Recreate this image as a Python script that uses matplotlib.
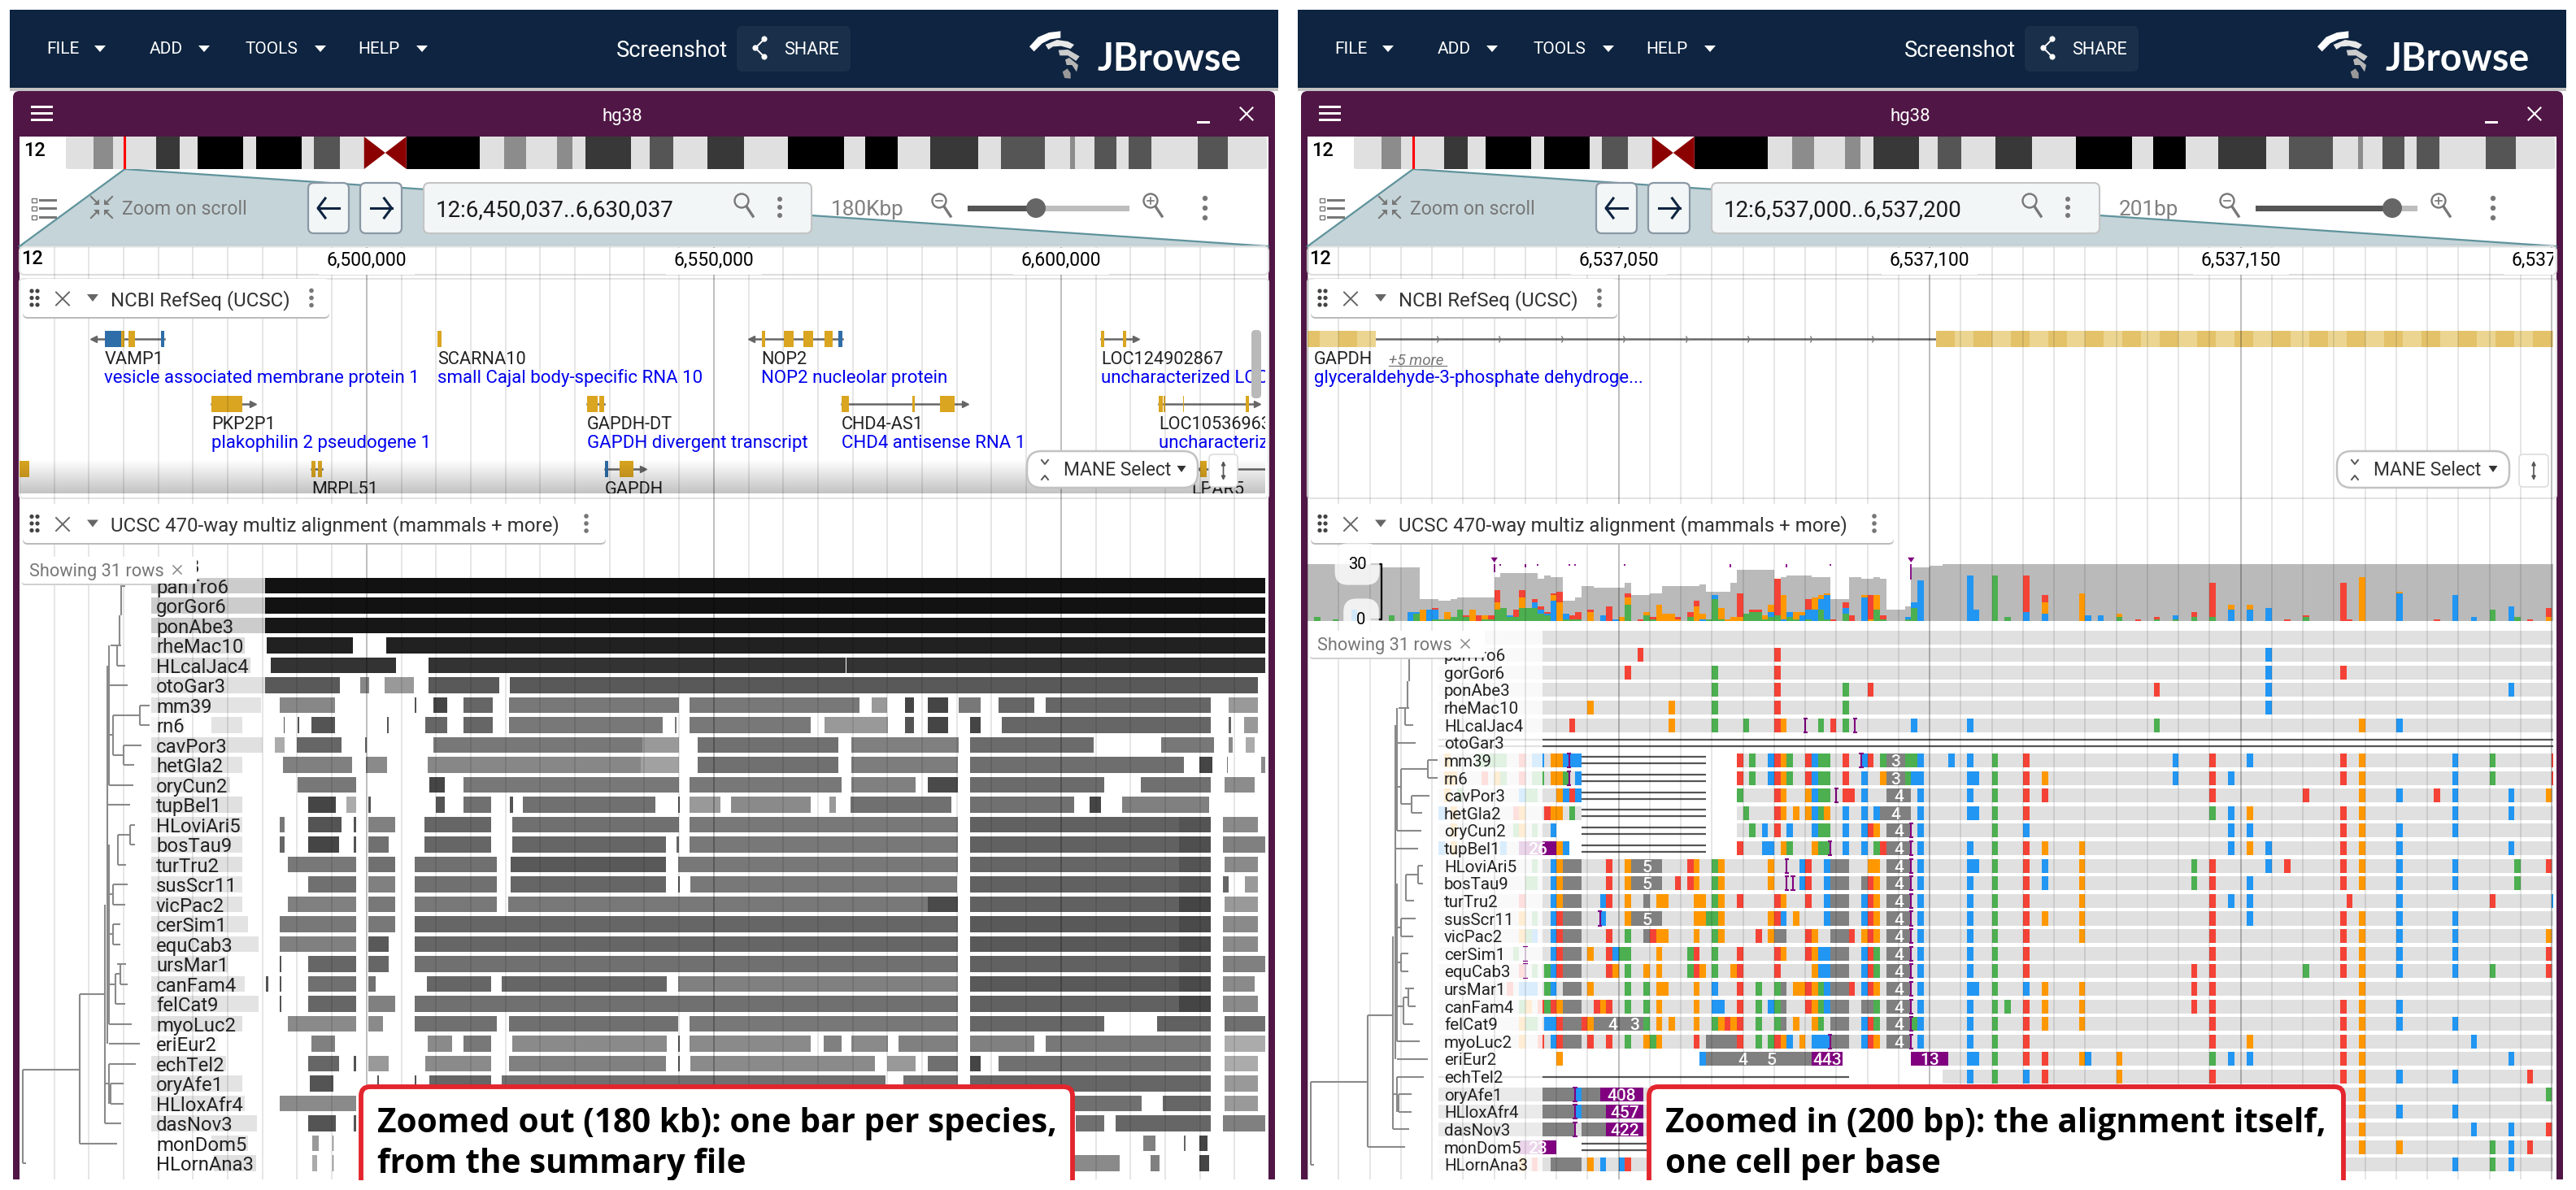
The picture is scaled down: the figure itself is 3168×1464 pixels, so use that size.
"""JBrowse multiple alignment screenshot: 180 kb summary view next to 200 bp base view."""
import re

import matplotlib

matplotlib.use("Agg")
import matplotlib.pyplot as plt
import numpy as np
from matplotlib.patches import Circle, FancyBboxPatch, Polygon, Rectangle

plt.rcParams["font.family"] = ["Roboto", "DejaVu Sans"]

W, H = 3168, 1464
NAVY, SHARE_BG, PLUM = "#0e2440", "#192f4a", "#501645"
BASE_COLORS = {"A": "#4caf50", "C": "#2196f3", "G": "#ff9800", "T": "#f44336"}
INS_PURPLE, DEL_GREY, ROW_GREY = "#800080", "#808080", "#e0e0e0"
GOLD, CDS_BLUE = "#daa520", "#2f6da8"

SPECIES = ["hg38", "panTro6", "gorGor6", "ponAbe3", "rheMac10", "HLcalJac4", "otoGar3", "mm39", "rn6",
           "cavPor3", "hetGla2", "oryCun2", "tupBel1", "HLoviAri5", "bosTau9", "turTru2", "susScr11",
           "vicPac2", "cerSim1", "equCab3", "ursMar1", "canFam4", "felCat9", "myoLuc2", "eriEur2",
           "echTel2", "oryAfe1", "HLloxAfr4", "dasNov3", "monDom5", "HLornAna3"]

# chr12 ideogram: band edges in Mb, stain of each band
BAND_EDGES = [0, 3.1, 5.2, 10.0, 12.6, 14.6, 19.7, 21.1, 26.2, 27.5, 30.4, 33.1, 37.8, 45.9, 48.6, 51.1, 54.5,
              56.2, 57.7, 62.7, 64.8, 67.4, 71.2, 75.3, 80.1, 86.4, 88.7, 92.3, 95.9, 101.3, 103.8, 108.7,
              111.5, 112.0, 114.2, 116.6, 118.0, 120.5, 125.6, 129.0, 133.3]
BAND_STAIN = [0, 50, 0, 80, 0, 100, 0, 100, 0, 70, 0, -1, 100, 0, 50, 0, 50, 0, 80, 0, 70, 0, 80, 0, 100, 0, 100,
              0, 80, 0, 70, 0, 50, 0, 70, 0, 70, 0, 70, 0]
BAND_COLORS = {0: "#e0e0e0", 50: "#8c8c8c", 70: "#555555", 80: "#383838", 100: "#000000"}

# left panel, summary blocks per species: start kb, end kb, percent identity
VIEW_KB = 179.36
LEFT_BLOCKS = {
    "panTro6": [(18.9, 35.3, 20), (35.3, 180, 93)],
    "gorGor6": [(18.9, 35.3, 20), (35.3, 180, 93)],
    "ponAbe3": [(18.9, 35.3, 20), (35.3, 180, 91)],
    "rheMac10": [(18.9, 32.4, 14), (35.6, 48.0, 87), (52.8, 180, 87)],
    "HLcalJac4": [(18.9, 33.2, 14), (36.2, 54.2, 80), (58.9, 118.9, 80), (119.1, 180, 80)],
    "otoGar3": [(18.9, 35.3, 12), (35.3, 46.1, 65), (49.0, 50.3, 47), (52.6, 56.8, 40), (58.9, 69.1, 65), (70.6, 178.3, 65)],
    "mm39": [(18.9, 34.8, 11), (37.4, 45.4, 47), (56.9, 57.1, 67), (59.6, 61.6, 73), (63.9, 68.1, 60), (70.5, 94.9, 53),
             (96.5, 120.9, 53), (122.7, 124.9, 40), (127.5, 128.8, 73), (130.8, 133.7, 73), (135.2, 138.4, 53),
             (141.0, 146.1, 60), (147.8, 171.5, 60), (174.1, 178.3, 40)],
    "rn6": [(18.9, 23.8, 4), (27.6, 32.1, 11), (38.0, 38.2, 67), (40.0, 40.2, 67), (42.0, 45.4, 67), (52.9, 53.1, 67),
            (58.4, 61.6, 60), (63.9, 68.1, 60), (70.5, 92.6, 53), (94.4, 94.6, 53), (96.5, 113.9, 53), (115.9, 125.0, 40),
            (127.5, 128.8, 67), (130.8, 133.7, 73), (136.9, 138.4, 73), (141.4, 171.5, 60), (174.1, 174.5, 60),
            (176.3, 178.3, 40)],
    "cavPor3": [(18.9, 35.0, 12), (36.8, 38.1, 33), (39.9, 46.3, 60), (49.7, 50.0, 60), (59.6, 89.7, 53), (89.7, 94.9, 40),
                (97.6, 117.9, 56), (119.8, 135.2, 50), (136.9, 154.6, 58), (164.4, 172.0, 53), (174.1, 174.7, 46),
                (176.5, 177.8, 33)],
    "hetGla2": [(18.9, 32.1, 11), (37.9, 47.9, 50), (49.8, 52.9, 46), (58.7, 89.4, 47), (89.4, 94.9, 37), (97.6, 117.9, 56),
                (119.8, 135.1, 51), (136.9, 167.7, 57), (169.9, 171.8, 73), (173.8, 174.0, 53), (178.8, 180, 46)],
    "oryCun2": [(18.9, 30.3, 11), (40.0, 48.4, 53), (59.0, 61.2, 73), (63.9, 94.9, 53), (96.5, 118.3, 53), (119.8, 129.0, 50),
                (130.8, 135.1, 71), (136.9, 156.2, 58), (161.4, 171.5, 56), (173.5, 177.8, 45)],
    "tupBel1": [(18.9, 32.1, 12), (41.5, 45.5, 73), (47.1, 48.5, 33), (50.2, 50.6, 67), (59.9, 61.2, 67), (63.9, 67.9, 56),
                (70.6, 71.0, 67), (72.5, 91.6, 56), (94.8, 95.0, 67), (96.5, 100.9, 40), (102.4, 113.9, 46), (116.6, 117.5, 40),
                (119.6, 134.2, 56), (136.9, 151.8, 56), (154.1, 155.7, 73), (158.8, 171.3, 50)],
    "HLoviAri5": [(18.9, 32.1, 11), (37.4, 38.2, 53), (41.5, 46.4, 67), (48.1, 48.4, 67), (50.2, 54.1, 50), (58.3, 67.9, 60),
                  (70.9, 94.9, 56), (96.5, 135.1, 53), (136.9, 166.9, 62), (166.9, 171.5, 67), (173.3, 178.3, 46)],
    "bosTau9": [(18.9, 32.1, 11), (37.4, 38.2, 60), (41.5, 46.0, 73), (48.1, 48.4, 67), (50.2, 53.1, 56), (58.3, 67.9, 60),
                (70.9, 93.1, 60), (94.6, 94.9, 60), (96.5, 135.1, 53), (136.9, 166.9, 62), (166.9, 171.5, 69), (173.3, 180, 50)],
    "turTru2": [(18.9, 32.1, 12), (38.6, 48.4, 53), (50.2, 54.1, 56), (56.9, 68.7, 56), (70.7, 93.1, 65), (94.8, 135.1, 53),
                (136.9, 166.9, 60), (166.9, 171.5, 67), (173.5, 178.3, 46)],
    "susScr11": [(18.9, 32.1, 10), (41.5, 48.4, 56), (50.2, 54.1, 50), (56.9, 68.7, 56), (70.7, 93.1, 60), (94.8, 95.0, 67),
                 (96.6, 135.0, 53), (136.9, 166.9, 62), (166.9, 171.5, 67), (173.3, 174.1, 60), (176.4, 178.3, 40)],
    "vicPac2": [(18.9, 32.1, 11), (38.6, 48.4, 50), (50.2, 54.1, 53), (56.9, 68.7, 53), (70.4, 130.8, 53), (130.8, 135.1, 71),
                (136.9, 166.9, 62), (166.9, 171.5, 73), (173.5, 178.3, 40)],
    "cerSim1": [(18.9, 32.9, 11), (37.4, 48.4, 53), (50.2, 54.1, 53), (56.9, 135.1, 60), (136.9, 166.9, 65), (166.9, 171.5, 71),
                (173.3, 178.3, 46)],
    "equCab3": [(18.9, 34.4, 11), (37.4, 48.4, 50), (50.2, 53.1, 65), (56.9, 135.1, 60), (136.9, 166.9, 65), (166.9, 171.5, 71),
                (173.3, 178.3, 46)],
    "ursMar1": [(18.9, 29.9, 11), (37.4, 37.7, 67), (41.5, 48.4, 60), (50.2, 53.1, 60), (56.9, 135.1, 56), (136.9, 166.9, 62),
                (166.9, 171.5, 67), (173.3, 180, 50)],
    "canFam4": [(18.9, 32.4, 11), (35.5, 35.8, 67), (37.4, 37.7, 67), (41.5, 48.4, 56), (50.2, 51.3, 56), (58.6, 67.9, 60),
                (69.4, 93.2, 60), (94.8, 135.1, 50), (136.9, 166.9, 65), (166.9, 171.5, 71), (173.3, 177.8, 46)],
    "felCat9": [(18.9, 34.4, 11), (37.4, 37.7, 67), (41.5, 48.4, 60), (50.2, 54.1, 50), (56.9, 135.1, 56), (136.9, 166.9, 62),
                (166.9, 171.5, 73), (173.3, 178.3, 46)],
    "myoLuc2": [(18.9, 32.1, 12), (38.6, 48.4, 46), (50.2, 52.3, 46), (56.9, 68.7, 56), (70.5, 94.8, 56), (96.5, 135.1, 53),
                (136.9, 156.2, 60), (163.8, 171.5, 62), (173.5, 180, 56)],
    "eriEur2": [(18.9, 28.5, 3), (42.0, 45.4, 50), (58.8, 62.3, 46), (63.9, 67.9, 53), (70.9, 93.2, 46), (94.8, 95.0, 67),
                (96.5, 113.9, 46), (115.8, 118.3, 50), (119.8, 125.0, 46), (126.6, 135.1, 50), (136.9, 146.1, 50),
                (147.8, 171.5, 53), (173.5, 180, 33)],
    "echTel2": [(18.9, 29.7, 11), (41.5, 46.0, 60), (48.1, 48.4, 67), (50.2, 53.1, 40), (58.4, 67.9, 46), (70.5, 93.1, 50),
                (94.8, 95.0, 67), (96.6, 123.1, 46), (124.9, 129.0, 40), (130.8, 135.1, 56), (136.9, 138.4, 73),
                (141.0, 171.5, 56), (173.5, 178.3, 33)],
    "oryAfe1": [(18.9, 32.1, 11), (41.8, 45.2, 67), (51.5, 51.7, 67), (56.9, 57.1, 67), (59.0, 67.9, 60), (69.4, 124.7, 56),
                (127.3, 135.1, 56), (136.9, 171.5, 60), (173.5, 178.3, 40)],
    "HLloxAfr4": [(18.9, 32.4, 11), (37.4, 48.4, 46), (151.9, 161.6, 56), (164.6, 171.5, 60), (173.5, 178.3, 40)],
    "dasNov3": [(18.9, 34.2, 11), (41.5, 45.5, 67), (48.1, 48.4, 67), (152.1, 156.2, 56), (157.8, 171.5, 60), (173.3, 180, 50)],
    "monDom5": [(27.6, 32.9, 11), (42.1, 43.1, 40), (45.0, 45.2, 60), (161.8, 163.6, 50), (167.7, 167.9, 60), (169.9, 171.1, 73)],
    "HLornAna3": [(28.0, 34.0, 12), (42.1, 42.8, 33), (45.0, 45.2, 60), (151.9, 158.4, 46), (162.8, 164.1, 50), (169.9, 171.3, 73)],
}

# left panel genes: name, description, lane, start, end, strand, (exon start, end, kind), label x
LEFT_GENES = [
    ("VAMP1", "vesicle associated membrane protein 1", 0, 10.6, 20.8, -1,
     [(12.3, 14.6, "c"), (14.6, 15.1, "e"), (15.7, 16.6, "e"), (20.3, 20.8, "c")], 12.2),
    ("SCARNA10", "small Cajal body-specific RNA 10", 0, 60.2, 60.7, 0, [(60.2, 60.7, "e")], 60.2),
    ("NOP2", "NOP2 nucleolar protein", 0, 105.4, 118.5, -1,
     [(106.9, 107.4, "e"), (110.0, 111.4, "e"), (112.9, 114.3, "e"), (115.9, 117.1, "e"), (117.9, 118.5, "c")], 106.8),
    ("LOC124902867", "uncharacterized LOC124902867", 0, 155.7, 160.7, 1, [(155.7, 156.2, "e"), (158.9, 159.3, "e")], 155.7),
    ("PKP2P1", "plakophilin 2 pseudogene 1", 1, 27.6, 33.6, 1, [(27.6, 32.1, "e")], 27.6),
    ("GAPDH-DT", "GAPDH divergent transcript", 1, 81.7, 84.2, 0, [(81.7, 83.2, "e"), (83.5, 84.2, "e")], 81.7),
    ("CHD4-AS1", "CHD4 antisense RNA 1", 1, 118.3, 136.2, 1,
     [(118.3, 119.4, "e"), (128.5, 128.9, "e"), (132.5, 134.6, "e")], 118.3),
    ("LOC105369632", "uncharacterized LOC105369632", 1, 164.0, 178.2, 1,
     [(164.0, 164.6, "e"), (164.7, 165.0, "e"), (167.5, 167.7, "e"), (176.6, 177.0, "e")], 164.0),
    ("", "", 2, 0.0, 1.4, 0, [(0.0, 1.4, "e")], 0.0),
    ("MRPL51", "", 2, 42.0, 43.5, 0, [(42.0, 42.6, "e"), (42.9, 43.5, "e")], 42.0),
    ("GAPDH", "", 2, 84.3, 89.8, 1, [(84.3, 84.8, "c"), (86.4, 88.4, "e")], 84.3),
    ("LPAR5", "", 2, 170.0, 180.0, -1, [(170.0, 170.9, "e")], 168.7),
]

# right panel: coverage top per run of bases (run start, count), from bp 0 up to the end of the view
COVERAGE_STARTS = [0, 12, 18, 21, 23, 24, 30, 31, 37, 38, 39, 41, 43, 44, 46, 51, 52, 55, 57, 63, 64, 68, 69, 75, 76,
                   77, 81, 84, 87, 89, 90, 91, 92, 93, 96, 97, 100, 102]
COVERAGE_COUNTS = [31, 29, 12, 11, 12, 13, 24, 26, 23, 25, 24, 11, 13, 19, 18, 21, 14, 15, 19, 20, 16, 21, 28, 23, 24,
                   25, 24, 12, 24, 23, 23, 24, 23, 6, 8, 29, 30, 31]
# mismatch counts stacked on the coverage: bp -> A, C, G, T
SNP_COUNTS = {
    1: (2, 0, 0, 0), 4: (1, 0, 0, 0), 7: (0, 6, 0, 0), 13: (3, 0, 0, 0), 16: (0, 5, 0, 0), 17: (4, 1, 0, 0), 18: (0, 0, 6, 0),
    19: (0, 6, 0, 0), 20: (1, 5, 0, 1), 21: (1, 0, 0, 0), 22: (1, 0, 4, 0), 23: (2, 0, 0, 0), 24: (6, 0, 0, 0), 25: (2, 0, 0, 1),
    26: (0, 0, 6, 0), 27: (0, 0, 0, 3), 28: (1, 0, 2, 0), 29: (1, 0, 0, 2), 30: (6, 0, 4, 7), 31: (7, 0, 0, 0), 32: (2, 1, 0, 0),
    33: (2, 0, 0, 4), 34: (7, 0, 6, 4), 35: (7, 0, 0, 0), 36: (7, 3, 0, 2), 37: (4, 2, 0, 2), 38: (3, 1, 0, 1), 39: (0, 11, 3, 1),
    40: (0, 0, 10, 6), 41: (1, 3, 0, 0), 42: (1, 0, 0, 2), 43: (1, 0, 0, 4), 45: (0, 0, 5, 1), 47: (0, 3, 0, 0), 48: (0, 0, 0, 8),
    49: (0, 1, 0, 0), 50: (0, 0, 2, 0), 51: (9, 0, 4, 2), 53: (0, 0, 0, 1), 54: (3, 0, 2, 0), 55: (1, 0, 0, 1), 56: (0, 0, 9, 0),
    57: (0, 0, 4, 0), 58: (0, 0, 4, 0), 59: (0, 0, 1, 1), 61: (2, 0, 0, 3), 62: (0, 0, 8, 3), 63: (0, 1, 3, 0), 64: (1, 0, 0, 0),
    65: (12, 2, 0, 0), 66: (1, 0, 6, 0), 67: (0, 0, 1, 0), 68: (0, 0, 2, 0), 69: (0, 0, 2, 13), 70: (4, 0, 0, 0), 71: (5, 0, 0, 1),
    72: (5, 0, 0, 1), 73: (1, 0, 2, 0), 74: (2, 3, 4, 0), 75: (3, 0, 0, 20), 76: (0, 1, 13, 0), 77: (2, 3, 0, 0), 78: (1, 0, 4, 0),
    79: (0, 3, 2, 0), 80: (1, 5, 0, 6), 81: (0, 6, 7, 0), 82: (6, 6, 2, 0), 83: (1, 13, 1, 0), 84: (0, 0, 0, 1), 86: (4, 3, 0, 3),
    87: (0, 0, 0, 3), 89: (0, 13, 1, 0), 90: (0, 0, 1, 13), 91: (6, 0, 8, 0), 92: (1, 0, 0, 2), 96: (1, 1, 0, 0), 97: (7, 3, 0, 0),
    98: (0, 22, 0, 0), 106: (0, 25, 0, 0), 107: (0, 6, 0, 0), 110: (25, 0, 0, 0), 112: (2, 0, 0, 0), 115: (0, 5, 0, 20),
    118: (0, 4, 6, 4), 124: (0, 0, 15, 0), 125: (0, 3, 0, 0), 127: (0, 3, 0, 0), 130: (2, 0, 2, 0), 133: (0, 0, 0, 1),
    136: (1, 0, 0, 1), 139: (1, 2, 0, 0), 142: (2, 0, 0, 3), 145: (2, 0, 0, 19), 148: (0, 6, 3, 0), 151: (0, 6, 3, 0),
    154: (0, 7, 0, 0), 157: (0, 0, 0, 1), 160: (2, 0, 0, 1), 166: (0, 0, 0, 21), 167: (0, 0, 0, 1), 169: (0, 0, 24, 0),
    175: (0, 15, 1, 0), 181: (0, 0, 0, 1), 184: (0, 14, 0, 0), 187: (0, 2, 0, 0), 190: (6, 0, 0, 0), 193: (0, 8, 0, 0),
    194: (2, 0, 0, 0), 196: (0, 0, 0, 1), 199: (0, 0, 2, 5),
}
INS_SITES = [30, 31, 35, 37, 42, 43, 51, 68, 77, 84, 97]
INS_SIZES = [4.4, 0.6, 1.4, 0.6, 0.6, 0.6, 0.6, 1.4, 1.4, 0.6, 8.4]
INS_FLAGS = [30, 97]

# right panel: mismatching bases per species, written as bp + base
CELLS = {
    "panTro6": "53T 75T 154C",
    "gorGor6": "51T 65A 75T 154C 166T",
    "ponAbe3": "65A 75T 86A 90T 136T 154C 193C",
    "rheMac10": "45G 58G 65A 75T 86A 154C",
    "HLcalJac4": "42T 58G 65A 70A 75T 76G 82A 84T 86A 97C 106C 136A 169G 175C",
    "mm39": "22G 27A 28A 29A 30A 31A 34T 36C 37C 39G 40G 41C 42C 43C 69T 71A 74C 75T 76G 77A 80T 81C 82A 83A 86T 89C 90T "
            "92A 96A 97A 98C 103C 106C 110A 115T 139C 145T 151C 166T 169G 184C 190A 200T",
    "rn6": "22G 23G 28T 30G 31A 34T 36A 37A 39G 40G 41A 43C 69T 71A 74C 75T 76G 77A 80T 81C 82A 83A 86T 89C 92G 96A 97C 98C "
           "106C 107C 110A 115T 118G 139C 145T 148C 166T 169G 184C 190A 200T",
    "cavPor3": "22G 24A 34C 35A 36A 40G 41C 42T 43C 69A 75T 76G 80G 81C 82A 83A 86T 87T 89C 98C 106C 110A 115T 118T 145T 160T "
               "169G 175C 181T 184C 193C 199G",
    "hetGla2": "21C 23G 33T 34G 38T 39G 40G 42A 70A 75T 76G 78G 80G 81C 82A 83G 86C 89C 91C 98C 106C 107C 110A 115T 145A 148C "
               "151G 166T 169G 184C 193C",
    "oryCun2": "23G 33A 34G 36A 39C 71A 73C 75T 77C 81C 82A 83A 86C 89C 90T 91G 98C 110A 115C 148C 151C 166T 169G 175C 184C",
    "tupBel1": "21C 23G 31C 40G 41C 69T 73C 74C 76G 77A 81G 82A 83A 86C 89C 91A 92T 98C 106C 110A 115T 118G 124G 148C 151G 154C "
               "166T 169G 175C 193C",
    "HLoviAri5": "36A 39C 40G 48T 51G 61T 62G 65A 66G 74G 79C 80T 83C 90G 91G 98C 106C 107C 110A 115T 118C 124G 142A 145T 154C "
                 "157T 166T 169G 175C 184C 194A 199T",
    "bosTau9": "35A 36A 39C 40G 48T 51G 59T 61T 62G 65A 66G 74G 79C 80T 83C 90T 91G 98C 106C 110A 115T 118C 124G 142A 145T 151C "
               "166T 169G 175C 184C 194A",
    "turTru2": "34T 39C 40G 47C 48T 51G 56G 57G 62G 63G 65A 66G 69T 75T 76G 80T 83C 89C 90T 91G 98C 106C 110A 115T 124G 145T 148C "
               "151C 167T 175C 190T 200C",
    "susScr11": "34G 36A 39C 40T 47C 51G 62G 63G 64A 65A 66G 74G 75T 76C 78G 83C 89C 90T 91G 98C 106C 110A 115T 118G 124G 145T "
                "151C 166T 169G 175C 184C",
    "vicPac2": "34G 35A 36C 39C 40T 48T 51A 55T 56G 57G 62G 65A 66G 72T 74G 80T 81G 87T 89G 90T 91G 98C 106C 110A 115T 124G 145T "
               "166T 169G 175C 184C 199G",
    "cerSim1": "33A 39C 40T 45G 48T 49C 50A 51A 56G 61A 62T 65A 69T 75T 76G 80T 81G 82C 83C 89C 90T 91A 98C 106C 110A 115T 145T "
               "166T 169G 175C 184C 199T",
    "equCab3": "34T 36A 38A 39C 40T 48T 49G 51A 54G 56G 61A 62T 63G 65A 68G 69T 75T 81G 82C 83C 89C 90T 91A 98C 106C 110A 115T "
               "142T 145T 160A 166T 169G 175C 184C 190A 199T",
    "ursMar1": "32T 34C 35C 36C 38A 39C 45G 51A 54A 56G 57G 62G 65C 69T 72A 75A 78G 79G 80T 81G 82A 83C 87T 89C 90T 91G 98C 106C "
               "107C 110A 115C 118G 124G 142T 145T 169G",
    "canFam4": "34A 35G 37T 38A 39T 40G 46T 47G 48T 51A 54A 56G 62G 65C 66C 69T 72A 74C 75A 80T 81G 82A 83C 91A 98C 106C 110A 112A "
               "115T 118G 124G 142T 145T 166T 169G 175C",
    "felCat9": "34G 35A 36A 38C 39C 40T 44T 45G 54A 56G 58G 62G 65A 66G 67T 68G 69T 72A 75A 78G 81G 82A 89C 90T 91A 97A 98C 106C "
               "110A 115T 118G 124G 145T 166T 169G 175C 184C",
    "myoLuc2": "34G 37T 39C 40T 45T 48T 51A 54G 55A 56G 62T 69T 72A 74A 75T 76G 77C 79G 81C 82C 83C 89C 90T 91G 98C 106C 110A 115T "
               "145T 151G 166T 169G 187C",
    "eriEur2": "40G 63C 106C 107C 110A 115T 118T 124G 125C 130G 145A 148C 151C 166T 169G 193C",
    "echTel2": "106C 110A 115C 118T 130G 145T 166T 169G 175C 184C 196T",
    "oryAfe1": "43C 169G 199A",
    "HLloxAfr4": "43C 169G 175C 184C",
    "dasNov3": "169G 187C 193C 199T",
    "monDom5": "169G 175G 190A 193C 196T",
    "HLornAna3": "34G 36T 45G 47C 50C 51T 184C 190A 193C",
}
ROW_SPANS = {"otoGar3": [], "mm39": [(21, 44), (69, 201)], "rn6": [(21, 44), (69, 201)], "cavPor3": [(21, 44), (69, 201)],
             "hetGla2": [(21, 44), (69, 201)], "oryCun2": [(21, 40), (69, 201)], "tupBel1": [(21, 42), (69, 201)],
             "eriEur2": [(103, 201)], "echTel2": [(102, 201)], "monDom5": [(21, 40), (100, 201)]}
DELETIONS = {
    "mm39": [(93, 96, "3")], "rn6": [(93, 96, "3")], "cavPor3": [(93, 97, "4")], "hetGla2": [(92, 97, "4")],
    "oryCun2": [(93, 97, "4")], "tupBel1": [(93, 97, "4")],
    "HLoviAri5": [(41, 44, ""), (52, 57, "5"), (84, 87, ""), (93, 97, "4")],
    "bosTau9": [(41, 44, ""), (52, 57, "5"), (84, 87, ""), (89, 90, ""), (93, 97, "4")],
    "turTru2": [(41, 44, ""), (54, 55, ""), (84, 87, ""), (93, 97, "4")],
    "susScr11": [(41, 44, ""), (52, 57, "5"), (84, 87, ""), (93, 97, "4")],
    "vicPac2": [(41, 44, ""), (54, 55, ""), (75, 77, ""), (84, 87, ""), (93, 97, "4")],
    "cerSim1": [(41, 44, ""), (84, 87, ""), (93, 97, "4")], "equCab3": [(41, 44, ""), (84, 87, ""), (93, 97, "4")],
    "ursMar1": [(41, 44, ""), (76, 77, ""), (84, 87, ""), (93, 97, "4")],
    "canFam4": [(41, 44, ""), (76, 77, ""), (84, 87, ""), (89, 91, ""), (93, 97, "4")],
    "felCat9": [(41, 44, ""), (46, 47, ""), (47, 51, "4"), (51, 54, "3"), (76, 77, ""), (84, 87, ""), (93, 97, "4")],
    "myoLuc2": [(41, 44, ""), (64, 69, ""), (84, 87, ""), (93, 97, "4")],
    "eriEur2": [(64, 68, ""), (68, 72, "4"), (72, 77, "5"), (77, 81, "")],
    "oryAfe1": [(21, 43, ""), (44, 47, "")], "HLloxAfr4": [(21, 43, ""), (44, 48, "")], "dasNov3": [(21, 43, ""), (44, 48, "")],
    "HLornAna3": [(39, 44, "")],
}
INSERT_BLOCKS = {"tupBel1": [(34, 40, "26")], "eriEur2": [(81, 86, "443"), (97, 103, "13")], "oryAfe1": [(47, 54, "408")],
                 "HLloxAfr4": [(48, 54, "457")], "dasNov3": [(48, 54, "422")], "monDom5": [(34, 40, "23")]}
INSERT_MARKS = {"HLcalJac4": [80, 88], "mm39": [42, 89], "rn6": [42], "cavPor3": [85], "oryCun2": [97], "tupBel1": [84, 97],
                "HLoviAri5": [77, 97], "bosTau9": [77, 78, 97], "turTru2": [97], "susScr11": [47, 97], "vicPac2": [97],
                "cerSim1": [35, 97], "equCab3": [35, 97], "ursMar1": [97], "canFam4": [97], "felCat9": [97],
                "myoLuc2": [84, 97], "oryAfe1": [43], "HLloxAfr4": [43], "dasNov3": [43]}
DOUBLE_GAPS = {"otoGar3": (21, 201), "mm39": (44, 64), "rn6": (44, 64), "cavPor3": (44, 64), "hetGla2": (44, 64),
               "oryCun2": (44, 64), "tupBel1": (44, 64), "monDom5": (44, 70)}
SINGLE_GAPS = {"echTel2": (21, 87)}

# species tree shared by both panels: branch (depth, depth, row) and join (depth, row, row)
TREE_BRANCHES = [(148, 152, 1), (135, 148, 4), (143, 152, 5), (133, 155, 6), (170, 182, 7), (170, 182, 8), (138, 170, 7.5),
                 (150, 172, 9), (150, 163, 10), (138, 150, 9.5), (131, 138, 8.5), (133, 162, 11), (131, 158, 12), (158, 164, 13),
                 (158, 164, 14), (144, 158, 13.5), (144, 153, 15), (138, 155, 16), (138, 152, 17), (133, 138, 16.5),
                 (138, 147, 18), (138, 147, 19), (133, 138, 18.5), (143, 153, 20), (147, 155, 21), (141, 147, 20.5),
                 (141, 152, 22), (133, 141, 21), (133, 160, 23), (133, 170, 24), (133, 165, 25), (135, 150, 26), (135, 150, 27),
                 (133, 135, 26.5), (128, 148, 28), (128, 133, 26), (97, 128, 21.5), (97, 143, 29), (28, 97, 25.3), (28, 32, 30)]
TREE_JOINS = [(148, 0.5, 2.5), (146, 2.5, 4), (143, 4, 5), (133, 4, 11), (170, 7, 8), (138, 7.5, 9.5), (150, 9, 10), (131, 5, 24),
              (158, 13, 14), (144, 13.5, 15), (138, 16, 17), (133, 15, 20), (138, 18, 19), (147, 20, 21), (141, 20.5, 22),
              (133, 14, 23), (135, 26, 27), (133, 25, 27), (128, 17, 28), (97, 21.5, 29), (28, 25.3, 30)]

MENU_LABELS = ["FILE", "ADD", "TOOLS", "HELP"]
MENU_X = [57, 184, 302, 440]
MENU_ARROW_X = [123, 251, 394, 519]

fig = plt.figure(figsize=(W / 100, H / 100), dpi=100, facecolor="white")


def pixel_axes(x0, y0, x1, y1, xlim, ylim, z):
    ax = fig.add_axes([x0 / W, 1 - y1 / H, (x1 - x0) / W, (y1 - y0) / H], zorder=z)
    ax.set_xlim(xlim)
    ax.set_ylim(ylim)
    ax.axis("off")
    return ax


bg = pixel_axes(0, 0, W, H, (0, W), (H, 0), 0)
fg = pixel_axes(0, 0, W, H, (0, W), (H, 0), 6)


def box(ax, x0, y0, x1, y1, fc, ec="none", lw=0.0, r=0.0, z=1, alpha=None):
    if r:
        p = FancyBboxPatch((x0, y0), x1 - x0, y1 - y0, boxstyle=f"round,pad=0,rounding_size={r}",
                           fc=fc, ec=ec, lw=lw, zorder=z, alpha=alpha)
    else:
        p = Rectangle((x0, y0), x1 - x0, y1 - y0, fc=fc, ec=ec, lw=lw, zorder=z, alpha=alpha)
    ax.add_patch(p)
    return p


def txt(ax, x, y, s, size, color="black", ha="left", z=4, **kw):
    return ax.text(x, y, s, fontsize=size, color=color, ha=ha, va="center_baseline", zorder=z, **kw)


def tri(ax, x, y, w, h, color, z=4):
    ax.add_patch(Polygon([(x - w, y - h), (x + w, y - h), (x, y + h)], fc=color, ec="none", zorder=z))


def dots(ax, x, y, color="#777777", gap=8.5, r=2.8, z=4):
    for k in (-1, 0, 1):
        ax.add_patch(Circle((x, y + k * gap), r, fc=color, ec="none", zorder=z))


def cross(ax, x, y, s, color="#666666", lw=1.5, z=4):
    ax.plot([x - s, x + s], [y - s, y + s], color=color, lw=lw, zorder=z)
    ax.plot([x - s, x + s], [y + s, y - s], color=color, lw=lw, zorder=z)


def magnifier(ax, x, y, sign, z=4):
    ax.add_patch(Circle((x - 3, y - 5), 8.5, fc="none", ec="#777777", lw=1.7, zorder=z))
    ax.plot([x + 3, x + 11], [y + 2, y + 14], color="#777777", lw=2.4, zorder=z)
    if sign:
        ax.plot([x - 7, x + 1], [y - 5, y - 5], color="#777777", lw=1.2, zorder=z)
    if sign > 0:
        ax.plot([x - 3, x - 3], [y - 9, y - 1], color="#777777", lw=1.2, zorder=z)


def draw_chrome(dx, location, span, thumb_x, mark_mb, tick_labels, tick_pos, per_kb):
    # application bar
    box(bg, dx + 12, 12, dx + 1572, 108, NAVY)
    box(bg, dx + 12, 108, dx + 1572, 112, "#c4c4c4")
    for label, x, ax_ in zip(MENU_LABELS, MENU_X, MENU_ARROW_X):
        txt(bg, dx + x, 59, label, 15, "white")
        tri(bg, dx + ax_, 60, 7, 4, "white")
    txt(bg, dx + 758, 59, "Screenshot", 19.6, "white")
    box(bg, dx + 906, 32, dx + 1046, 88, SHARE_BG, r=7)
    for px_, py_ in ((929, 59), (940, 48), (940, 70)):
        bg.add_patch(Circle((dx + px_, py_), 3.6, fc="white", ec="none", zorder=4))
    bg.plot([dx + 940, dx + 929, dx + 940], [48, 59, 70], color="white", lw=1.4, zorder=4)
    txt(bg, dx + 964, 59, "SHARE", 15.6, "white")
    txt(bg, dx + 1350, 69, "JBrowse", 33.5, "white", family="Lato", weight="bold")
    swooshes = [([48, 80, 120, 163, 163, 125, 95, 65], [97, 62, 45, 40, 65, 70, 85, 115], "white"),
                ([107, 150, 190, 213, 200, 165, 135, 118], [90, 72, 78, 90, 105, 95, 97, 108], "#e8e8e8"),
                ([155, 190, 233, 220, 190, 160], [110, 108, 133, 150, 130, 130], "#cccccc"),
                ([180, 195, 228, 222, 205, 185], [145, 138, 165, 190, 165, 165], "#b5b5b5"),
                ([170, 188, 200, 200, 178], [190, 178, 195, 215, 213], "#999999")]
    for xs, ys, c in swooshes:
        bg.add_patch(Polygon([(dx + 1250 + a / 3, 25 + b / 3) for a, b in zip(xs, ys)], fc=c, ec="none", zorder=4))

    # view header
    box(bg, dx + 16, 112, dx + 1568, 175, PLUM, r=8)
    box(bg, dx + 16, 168, dx + 24, 1451, PLUM)
    box(bg, dx + 1560, 168, dx + 1568, 1451, PLUM)
    box(bg, dx + 24, 168, dx + 1560, 1451, "white", z=1)
    for yy in (131, 139, 147):
        box(bg, dx + 38, yy - 1.5, dx + 65, yy + 1.5, "white", z=4)
    txt(bg, dx + 765, 141, "hg38", 16, "white", ha="center")
    box(bg, dx + 1472, 148.5, dx + 1488, 151.5, "white", z=4)
    cross(bg, dx + 1533, 140, 7.5, "white", 1.5)

    # ideogram
    txt(bg, dx + 29, 183, "12", 17, "black", weight="medium")
    ideo = pixel_axes(dx + 81, 168, dx + 1558, 208, (0, 133.3), (0, 1), 1)
    clip = FancyBboxPatch((0, 0), 133.3, 1, boxstyle="round,pad=0,rounding_size=0.8", mutation_aspect=0.025,
                          fc="none", ec="none")
    ideo.add_patch(clip)
    for a, b, stain in zip(BAND_EDGES[:-1], BAND_EDGES[1:], BAND_STAIN):
        if stain >= 0:
            ideo.bar(a, 1, b - a, 0, align="edge", color=BAND_COLORS[stain], lw=0).patches[0].set_clip_path(clip)
        else:
            mid = (a + b) / 2
            ideo.fill([a, mid, a], [0, 0.5, 1], color="#8b0000", lw=0)
            ideo.fill([b, mid, b], [0, 0.5, 1], color="#8b0000", lw=0)
    ideo.axvline(mark_mb, color="#ff0000", lw=2.2, zorder=5)

    # overview wedge
    mark_x = dx + 81 + mark_mb / 133.3 * 1477
    bg.add_patch(Polygon([(mark_x, 208), (dx + 24, 303), (dx + 1560, 303)], fc="#c5d4d8", ec="none", zorder=2))
    bg.plot([dx + 24, mark_x, dx + 1560, dx + 24], [303, 208, 303, 303], color="#5f939c", lw=1.6, zorder=2)

    # toolbar
    for yy in (246, 256, 267):
        box(bg, dx + 48, yy - 1.5, dx + 70, yy + 1.5, "#777777", z=4)
        bg.add_patch(Rectangle((dx + 39, yy - 2.5), 5.5, 5, fc="white", ec="#777777", lw=1, zorder=4))
    for sx, sy in ((1, 1), (-1, 1), (1, -1), (-1, -1)):
        cx, cy = dx + 125 + sx * 8, 255 + sy * 8
        bg.add_patch(Polygon([(cx - sx * 5, cy - sy * 5), (cx + sx * 2, cy - sy * 5), (cx - sx * 5, cy + sy * 2)],
                             fc="#777777", ec="none", zorder=4))
        bg.plot([cx - sx * 3, cx + sx * 5], [cy - sy * 3, cy + sy * 5], color="#777777", lw=1.5, zorder=4)
    txt(bg, dx + 150, 255, "Zoom on scroll", 16.6, "#777777", z=4)
    for x0, x1, sign in ((379, 429, -1), (443, 494, 1)):
        box(bg, dx + x0, 225, dx + x1, 287, "#f2f6f7", "#8a98a5", 1.6, r=7, z=3)
        xc = dx + (x0 + x1) / 2
        bg.plot([xc - 13, xc + 13], [256, 256], color=NAVY, lw=2.2, zorder=4)
        bg.plot([xc + sign * 4, xc + sign * 13, xc + sign * 4], [244, 256, 268], color=NAVY, lw=2.2, zorder=4)
    box(bg, dx + 521, 225, dx + 998, 287, "#f2f6f7", "#c4c4c4", 1.5, r=7, z=3)
    txt(bg, dx + 536, 256, location, 20, "#1a1a1a")
    magnifier(bg, dx + 915, 252, 0)
    dots(bg, dx + 959, 255, gap=10, r=3)
    txt(bg, dx + 1022, 255, span, 18.8, "#808080")
    magnifier(bg, dx + 1158, 252, -1)
    box(bg, dx + 1190, 252.5, dx + 1389, 259.5, "#bdbdbd", z=3)
    box(bg, dx + 1190, 252.5, dx + thumb_x, 259.5, "#555555", z=3)
    bg.add_patch(Circle((dx + thumb_x, 256), 12, fc="#666666", ec="none", zorder=4))
    magnifier(bg, dx + 1418, 252, 1)
    dots(bg, dx + 1482, 256, gap=12, r=3.2)

    # coordinate ruler
    scale = pixel_axes(dx + 24.2, 305, dx + 1556, 338, (0, 1531.8 / per_kb), (33, 0), 4)
    for label, pos in zip(tick_labels, tick_pos):
        scale.text(pos, 13, label, fontsize=16.4, ha="center", va="center_baseline", clip_on=True,
                   bbox=dict(fc="white", ec="none", pad=7))
        scale.vlines([pos - 5, pos, pos + 5], 27, 33, color="#999999", lw=1)
    txt(bg, dx + 26, 316, "12", 17, "black", weight="medium")
    box(bg, dx + 24, 303, dx + 1560, 338, "none", "#dddddd", 1.5, r=6, z=2)
    box(bg, dx + 24, 343, dx + 1560, 613, "none", "#e4e4e4", 1.5, r=4, z=2)


def draw_grid(dx, per_unit, minor, major, offset, stop):
    axg = pixel_axes(dx + 24.2, 304, dx + 1556, 1451, (0, 1531.8 / per_unit), (1147, 0), 3)
    for v in np.arange(offset % minor, stop, minor):
        is_major = abs((v - offset) / major - round((v - offset) / major)) < 1e-6
        axg.axvline(v, color="black", alpha=0.28 if is_major else 0.11, lw=1.3)


def track_label(dx, y0, y1, x1, text, dots_x):
    ym = (y0 + y1) / 2
    fg.add_patch(FancyBboxPatch((dx + 28, y0 + 2), x1 - 28, y1 - y0, boxstyle="round,pad=0,rounding_size=6",
                                fc="#bbbbbb", ec="none", zorder=1))
    box(fg, dx + 28, y0, dx + x1, y1, "white", r=6, z=1.5)
    for yy in (-8.5, 0, 8.5):
        fg.add_patch(Circle((dx + 39, ym + yy), 2.6, fc="#444444", ec="none", zorder=4))
        fg.add_patch(Circle((dx + 46, ym + yy), 2.6, fc="#444444", ec="none", zorder=4))
    cross(fg, dx + 77, ym + 1, 8, "#666666", 1.4)
    tri(fg, dx + 114, ym, 7, 4.5, "#666666")
    txt(fg, dx + 136, ym, text, 17.3, "#333333")
    dots(fg, dx + dots_x, ym, gap=9, r=2.8)


def showing_box(dx, y0):
    fg.add_patch(FancyBboxPatch((dx + 27, y0 + 2), 215, 33, boxstyle="round,pad=0,rounding_size=3", fc="#d0d0d0", ec="none", zorder=1))
    box(fg, dx + 27, y0, dx + 242, y0 + 33, "white", r=3, z=1.5)
    txt(fg, dx + 36, y0 + 16, "Showing 31 rows", 15.7, "#777777")
    cross(fg, dx + 218, y0 + 16, 5, "#888888", 1.1)


def mane_pill(dx, x0, x1, bx0, bx1):
    box(fg, dx + x0, 555, dx + x1, 600, "white", "#c2c2c2", 1.8, r=18, z=2)
    txt(fg, dx + x0 + 45, 576, "MANE Select", 16.5, "#333333")
    tri(fg, dx + x1 - 20, 577, 5.5, 4, "#333333")
    sx = dx + x0 + 22
    fg.plot([sx - 4, sx, sx + 4], [566, 571, 566], color="#555555", lw=1.4, zorder=4)
    fg.plot([sx - 4, sx, sx + 4], [590, 585, 590], color="#555555", lw=1.4, zorder=4)
    box(fg, dx + bx0, 559, dx + bx1, 599, "white", "#dddddd", 1.2, r=5, z=2)
    xm = dx + (bx0 + bx1) / 2
    fg.annotate("", (xm, 567), (xm, 591), arrowprops=dict(arrowstyle="<|-|>", color="#555555", lw=1.2, mutation_scale=7, shrinkA=0, shrinkB=0), zorder=4)


def draw_tree(dx, y_first, pitch):
    axt = pixel_axes(dx + 24, 660, dx + 190, 1451, (24 * 0.99, 190 * 0.99),
                     (1 + (1451 - y_first) / pitch, 1 + (660 - y_first) / pitch), 4)
    for a, b, r in TREE_BRANCHES:
        axt.plot([a, b], [r, r], color="#8a8a8a", lw=1.5, solid_capstyle="butt")
    for d, r0, r1 in TREE_JOINS:
        axt.plot([d, d], [r0, r1], color="#8a8a8a", lw=1.5, solid_capstyle="butt")


def row_labels(dx, y_first, pitch, size):
    for r, name in enumerate(SPECIES):
        txt(fg, dx + 192, y_first + (r - 1) * pitch, name, size, "#222222", z=1.2)


def callout(dx, x0, x1, line1, line2):
    box(fg, dx + x0, 1337, dx + x1, 1500, "white", "#e3252d", 4.2, r=11, z=3)
    for y, line in ((1393, line1), (1443, line2)):
        fg.text(dx + x0 + 20, y, line, fontsize=29.2, fontweight="bold", family="Open Sans", color="black", va="baseline", zorder=5)


def draw_left():
    dx = 0
    draw_chrome(dx, "12:6,450,037..6,630,037", "180Kbp", 1274, 6.54,
                ["6,500,000", "6,550,000", "6,600,000"], [49.963, 99.963, 149.963], 8.54)
    draw_grid(dx, 8.54, 5, 50, 49.963, 180)

    genes = pixel_axes(dx + 24.2, 343, dx + 1556, 607, (0, VIEW_KB), (607, 343), 2)
    lane_y = [417, 497, 576.5]
    for name, desc, lane, start, end, strand, exons, lab_x in LEFT_GENES:
        y = lane_y[lane]
        if end - start > exons[0][1] - exons[0][0]:
            genes.plot([start, end], [y, y], color="#666666", lw=1.8, zorder=2)
        if strand:
            genes.plot(end if strand > 0 else start, y, marker=">" if strand > 0 else "<", ms=6, color="#666666", zorder=2, clip_on=True)
        for a, b, kind in exons:
            genes.bar(a, 20, b - a, y - 10, align="edge", color=CDS_BLUE if kind == "c" else GOLD, lw=0, zorder=3)
        genes.text(lab_x, y + 23, name, fontsize=15.7, color="#222222", va="center_baseline", clip_on=True)
        genes.text(lab_x, y + 46, desc, fontsize=16, color="#0000ee", va="center_baseline", clip_on=True)
    fade = np.linspace(0, 0.24, 64)[:, None]
    genes.imshow(np.zeros((64, 1)), extent=(0, VIEW_KB, 607, 565), aspect="auto", cmap="gray", alpha=fade, vmin=0, vmax=1, zorder=5)
    genes.set_xlim(0, VIEW_KB)
    genes.set_ylim(607, 343)
    box(fg, dx + 1539, 406, dx + 1551, 490, "#b9b9b9", r=5, z=1)

    y_first, pitch = 720.6, 24.5
    align = pixel_axes(dx + 24.2, 660, dx + 1556, 1451, (0, VIEW_KB),
                       (1 + (1451 - y_first) / pitch, 1 + (660 - y_first) / pitch), 1)
    for r, name in enumerate(SPECIES):
        for start, end, pid in LEFT_BLOCKS.get(name, []):
            align.bar(start, 0.79, end - start, r - 0.395, align="edge", color=str(1 - pid / 100), lw=0)

    draw_tree(dx, y_first, pitch)
    row_labels(dx, y_first, pitch, 17.2)
    track_label(dx, 343, 390, 405, "NCBI RefSeq (UCSC)", 383)
    track_label(dx, 620, 668, 745, "UCSC 470-way multiz alignment (mammals + more)", 721)
    showing_box(dx, 685)
    mane_pill(dx, 1263, 1473, 1487, 1522)
    callout(dx, 444, 1319, "Zoomed out (180 kb): one bar per species,", "from the summary file")


def draw_right():
    dx = 1584
    per_bp = 7.65
    draw_chrome(dx, "12:6,537,000..6,537,200", "201bp", 1358, 6.58,
                ["6,537,050", "6,537,100", "6,537,150", "6,537,200"], [50, 100, 150, 200], per_bp)
    draw_grid(dx, per_bp, 5, 50, 0, 205)
    view = 1531.8 / per_bp

    genes = pixel_axes(dx + 24.2, 343, dx + 1556, 607, (0, view), (607, 343), 2)
    genes.plot([11, 101], [417, 417], color="#666666", lw=1.8, zorder=2)
    genes.plot(np.arange(21, 100, 10), [417] * 8, ls="none", marker="4", ms=7, color="#777777", zorder=3)
    for a, b, codon0 in ((0, 11, -1), (101, 201, 101)):
        for k, c in enumerate(np.arange(codon0, b, 3)):
            lo, hi = max(c, a), min(c + 3, b)
            genes.bar(lo, 20, hi - lo, 407, align="edge", color="#e3c26a" if k % 2 == 0 else "#ebd591", lw=0, zorder=3)
    genes.text(1, 440, "GAPDH", fontsize=15.7, color="#222222", va="center_baseline")
    genes.text(13, 442, "+5 more", fontsize=13.5, color="#777777", style="italic", va="center_baseline")
    genes.plot([13, 22.3], [450, 450], color="#777777", lw=0.9)
    genes.text(1, 463, "glyceraldehyde-3-phosphate dehydroge...", fontsize=16, color="#0000ee", va="center_baseline")

    # coverage
    cov = pixel_axes(dx + 24.2, 680, dx + 1556, 764, (0, view), (0, 84 / 2.26), 2)
    ends = COVERAGE_STARTS[1:] + [201]
    for a, b, n in zip(COVERAGE_STARTS, ends, COVERAGE_COUNTS):
        cov.bar(a, n, b - a, 0, align="edge", color="#bababa", lw=0)
    for bp, counts in SNP_COUNTS.items():
        base = 0
        for letter, n in zip("ACGT", counts):
            if n:
                cov.bar(bp, n, 1, base, align="edge", color=BASE_COLORS[letter], lw=0, zorder=3)
                base += n
    for bp, size in zip(INS_SITES, INS_SIZES):
        cov.vlines(bp, 30.8 - size, 30.8, color=INS_PURPLE, lw=1.3, zorder=4)
    for bp in INS_FLAGS:
        cov.fill([bp - 0.55, bp + 0.55, bp], [34.6, 34.6, 31.9], color=INS_PURPLE, lw=0, zorder=4)

    # coverage scale
    fg.plot([dx + 103, dx + 115, dx + 115, dx + 103], [694, 694, 762, 762], color="black", lw=1.6, zorder=3)
    for y, label, xc in ((694, "30", 85), (762, "0", 90)):
        fg.text(dx + xc, y, label, fontsize=14.5, ha="center", va="center", zorder=4,
                bbox=dict(fc="white", ec="none", alpha=0.8, pad=0.8, boxstyle="round"))

    # base level rows
    y_first, pitch = 805.7, 21.62
    align = pixel_axes(dx + 24.2, 770, dx + 1556, 1451, (0, view),
                       (1 + (1451 - y_first) / pitch, 1 + (770 - y_first) / pitch), 1)
    h = 0.79
    for r, name in enumerate(SPECIES):
        top = r - h / 2
        for a, b in ROW_SPANS.get(name, [(21, 201)]):
            align.bar(a, h, b - a, top, align="edge", color=ROW_GREY, lw=0, zorder=1)
        if name in DOUBLE_GAPS:
            a, b = DOUBLE_GAPS[name]
            align.hlines([r - 0.185, r + 0.185], a, b, color="#555555", lw=1.6, zorder=2)
        if name in SINGLE_GAPS:
            a, b = SINGLE_GAPS[name]
            align.hlines(r, a, b, color="#555555", lw=1.6, zorder=2)
        for token in CELLS.get(name, "").split():
            bp, letter = re.match(r"(\d+)([ACGT])", token).groups()
            align.bar(int(bp), h, 1, top, align="edge", color=BASE_COLORS[letter], lw=0, zorder=3)
        for a, b, label in DELETIONS.get(name, []):
            align.bar(a, h, b - a, top, align="edge", color=DEL_GREY, lw=0, zorder=4)
            if label:
                align.text((a + b) / 2, r, label, color="white", fontsize=15, fontweight="medium", ha="center", va="center_baseline", zorder=9)
        for a, b, label in INSERT_BLOCKS.get(name, []):
            align.bar(a, h, b - a, top, align="edge", color=INS_PURPLE, lw=0, zorder=5)
            align.text((a + b) / 2, r, label, color="white", fontsize=15, ha="center", va="center_baseline", zorder=9,
                       fontweight="medium")
        for bp in INSERT_MARKS.get(name, []):
            align.vlines(bp, top, top + h, color=INS_PURPLE, lw=1.5, zorder=6)
            align.hlines([top, top + h], bp - 0.35, bp + 0.35, color=INS_PURPLE, lw=1.5, zorder=6)
    align.barh(np.arange(len(SPECIES)), 16.7, h, 21, color="white", alpha=0.84, lw=0, zorder=8)

    draw_tree(dx, y_first, pitch)
    row_labels(dx, y_first, pitch, 14.8)
    track_label(dx, 343, 390, 405, "NCBI RefSeq (UCSC)", 383)
    track_label(dx, 620, 668, 745, "UCSC 470-way multiz alignment (mammals + more)", 721)
    showing_box(dx, 776)
    mane_pill(dx, 1290, 1502, 1514, 1550)
    callout(dx, 444, 1298, "Zoomed in (200 bp): the alignment itself,", "one cell per base")


draw_left()
draw_right()
box(fg, 0, 1451.5, W, H + 1, "white", z=20)

fig.savefig("out.png", dpi=100)
